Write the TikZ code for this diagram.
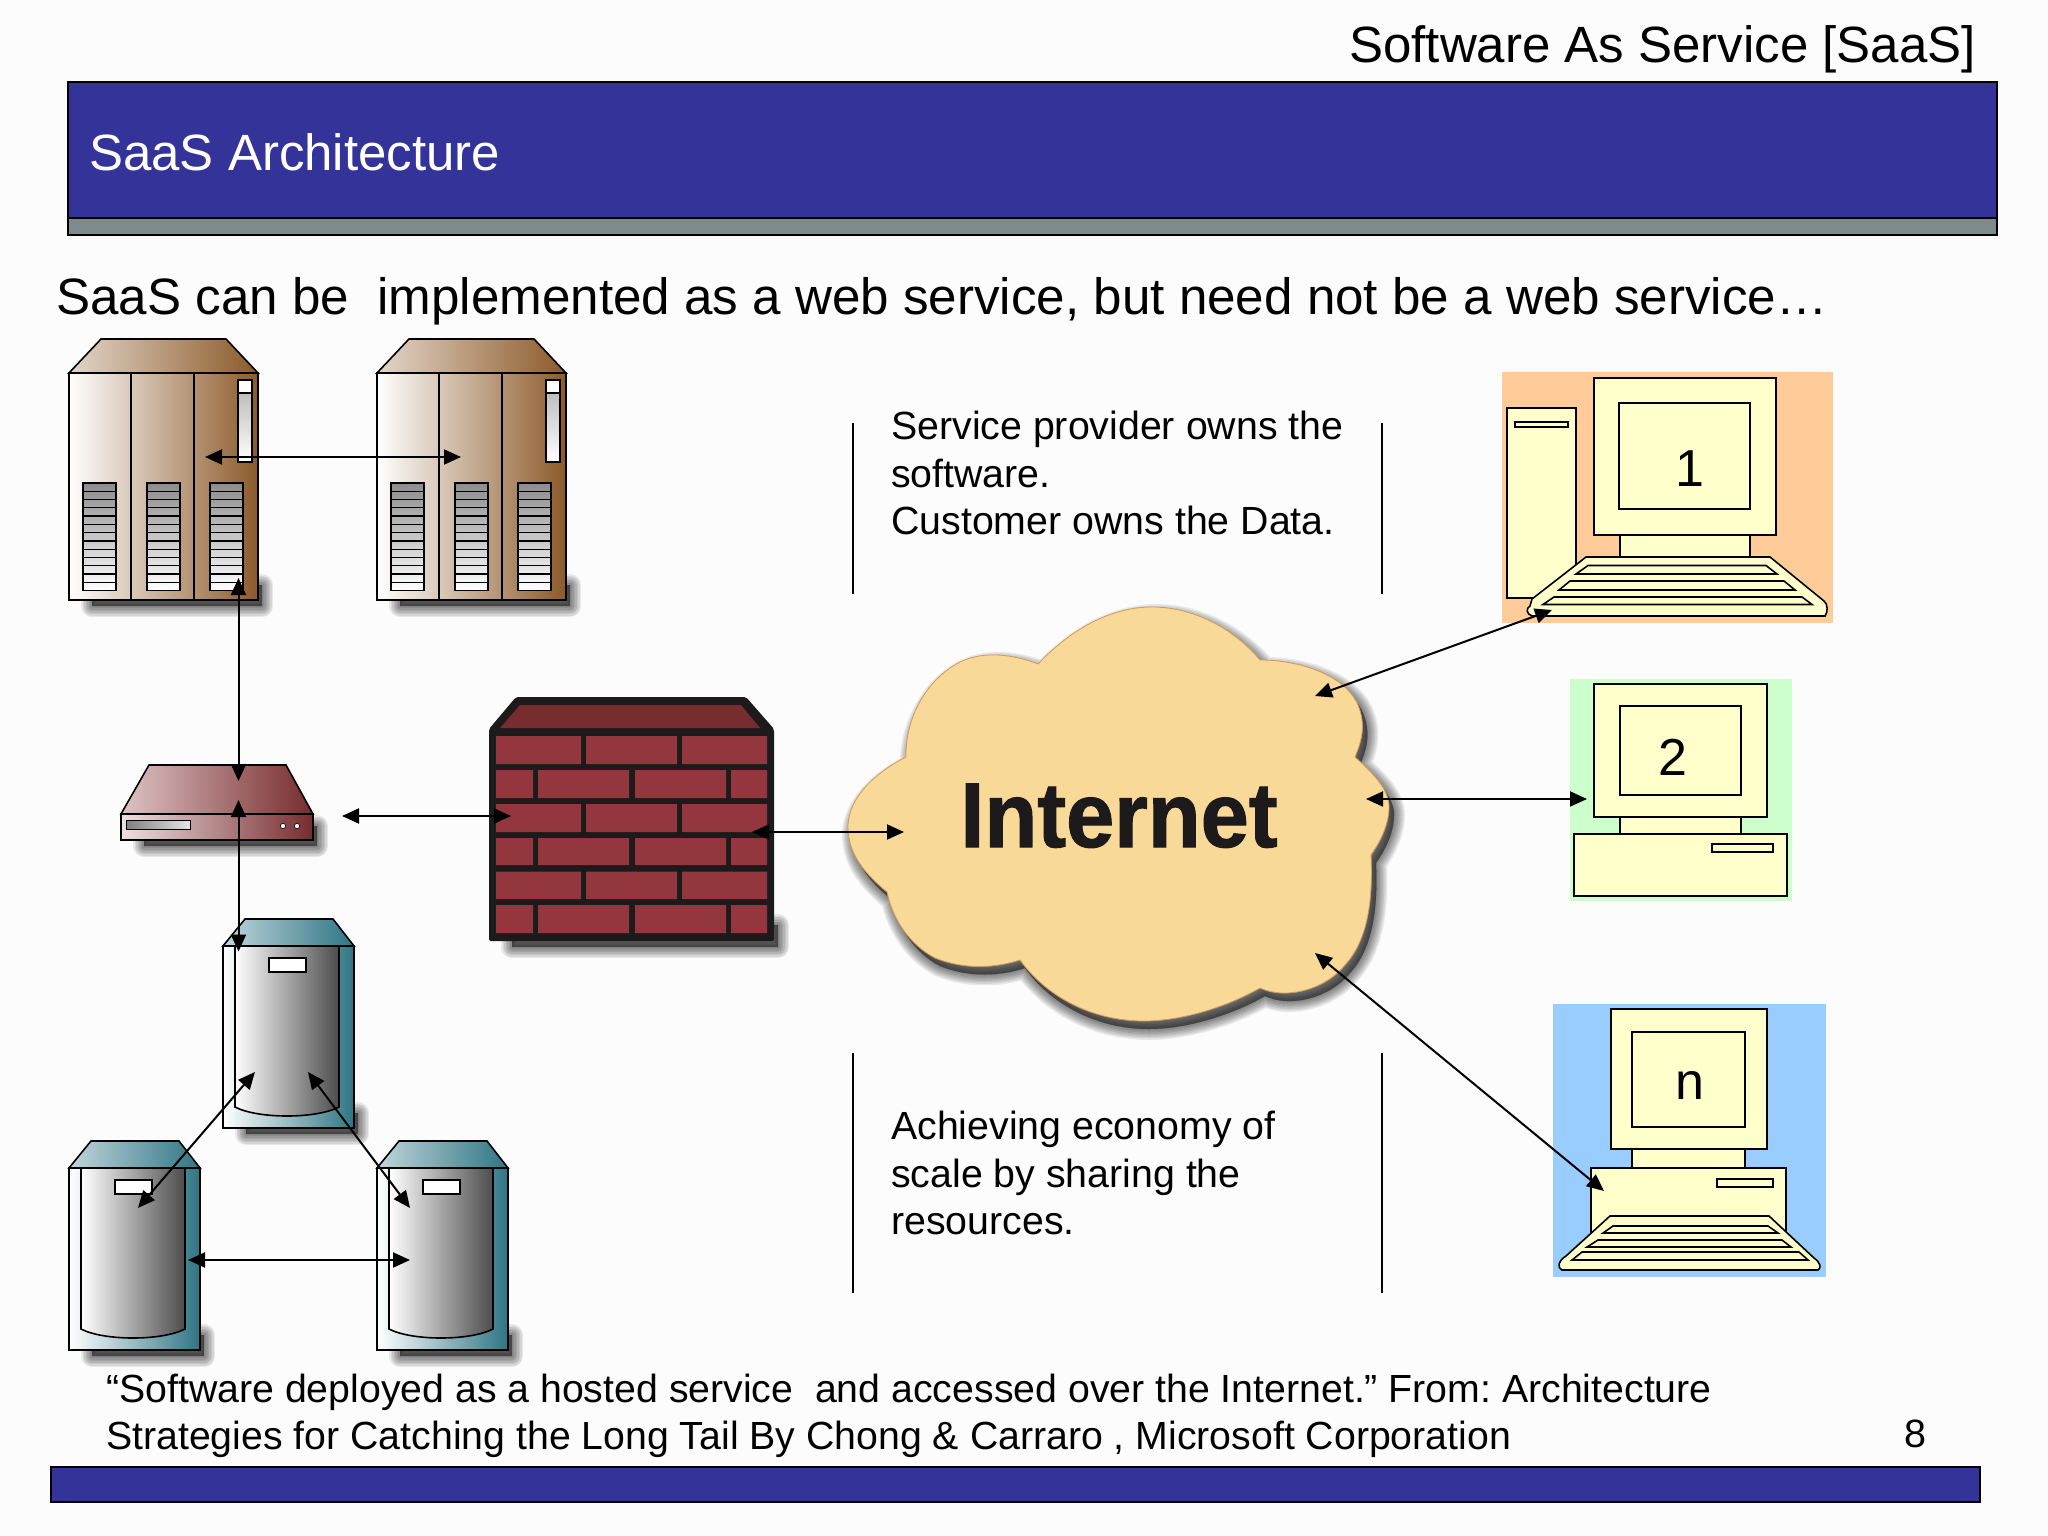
\documentclass[tikz,border=0pt]{standalone}
\usepackage{fontspec}
\setmainfont{Liberation Sans}
\newfontfamily\inetfont[FakeBold=1.2,FakeStretch=0.94]{Liberation Sans Bold}
\usetikzlibrary{arrows.meta}
\definecolor{barblue}{HTML}{333399}
\definecolor{bargrey}{HTML}{7F8A8A}
\definecolor{cloudfill}{HTML}{F9D998}
\definecolor{compfill}{HTML}{FFFFCC}
\definecolor{brick}{HTML}{93363D}
\definecolor{brickdark}{HTML}{1C1A1A}
\definecolor{walltop}{HTML}{772C2E}
\definecolor{brownD}{HTML}{8C5A2A}
\definecolor{tealD}{HTML}{2F7585}
\tikzset{
  x=1pt,y=-1pt,
  ink/.style={draw=black,line width=1.6pt,line join=miter},
  label/.style={inner sep=0pt,anchor=base west,text=black},
  body/.style={inner sep=0pt,anchor=north west,align=left,text=black,font=\fontsize{39.3}{47.6}\selectfont},
  digit/.style={inner sep=0pt,anchor=base,font=\fontsize{52}{52}\selectfont},
  link/.style={line width=2pt,{Triangle[length=17pt,width=15pt]}-{Triangle[length=17pt,width=15pt]}},
  rule/.style={draw=black,line width=1.8pt},
  slat/.style={draw=black,line width=1.6pt,top color=black!45,bottom color=white},
}
\newcommand{\softshadow}[1]{%
  \foreach \w in {22,19,16,13,10,7,4,1}{%
    \fill[black,opacity=.08,draw=black,line width=\w pt,line join=round] #1;}}
\newcommand{\ventbox}[1]{%
  \path[slat] (#1,483) rectangle ++(33,107.5);
  \foreach \i in {1,...,12}{\draw[black,line width=1.3pt] (#1,483+8.27*\i) -- ++(33,0);}}
\newcommand{\Cabinet}[1]{\begin{scope}[shift={(#1,0)}]
  \softshadow{(92,585) rectangle (262,606)}
  \path[ink,left color=white,right color=brownD] (69,373) rectangle (258,600);
  \path[ink,left color=brownD!25!white,right color=brownD] (69,373) -- (101,339) -- (226,339) -- (258,373) -- cycle;
  \draw[ink] (131,373) -- (131,600) (194,373) -- (194,600);
  \ventbox{83}\ventbox{147}\ventbox{210}
  \path[ink,top color=black!30,bottom color=white] (238,380) rectangle (252,462);
  \path[ink,fill=white] (238,380) rectangle (252,393);
\end{scope}}
\newcommand{\Server}[2]{\begin{scope}[shift={(#1,#2)}]
  \softshadow{(246,1113) rectangle (358,1134)}
  \path[ink,left color=white,right color=tealD] (223,946) rectangle (354,1128);
  \path[ink,left color=tealD!30!white,right color=tealD] (223,946) -- (245,919) -- (333,919) -- (354,946) -- cycle;
  \path[ink,left color=white,right color=black!70] (235,946) -- (235,1107) .. controls (258,1119) and (316,1119) .. (339,1107) -- (339,946) -- cycle;
  \path[ink,fill=white] (269,958) rectangle (306,972);
\end{scope}}
\begin{document}
\frenchspacing
\begin{tikzpicture}
\useasboundingbox (0,0) rectangle (2048,1536);
\fill[white!99!black] (0,0) rectangle (2048,1536);
% title and bars
\fill[bargrey,draw=black,line width=1.5pt] (68,218) rectangle (1997,235);
\fill[barblue,draw=black,line width=1.5pt] (68,82) rectangle (1997,218);
\fill[barblue,draw=black,line width=1.5pt] (51,1467) rectangle (1980,1502);
\node[label,anchor=base east,font=\fontsize{51}{51}\selectfont] (title) at (1976,63) {Software As Service [SaaS]};
\node[label,text=white,font=\fontsize{51}{51}\selectfont] (head) at (89,171) {SaaS Architecture};
\node[label,font=\fontsize{51.15}{51}\selectfont] (sub) at (56,314.5) {SaaS can be \ implemented as a web service, but need not be a web service…};
% icons
\Cabinet{0}\Cabinet{308}
% router
\softshadow{(144,826) rectangle (317,846)}
\path[ink,left color=white!85!brick,right color=walltop] (121,814) rectangle (313,840);
\path[ink,left color=white!70!brick,right color=walltop] (121,814) -- (149,765) -- (286,765) -- (313,814) -- cycle;
\path[draw=black,line width=1pt,left color=black!50,right color=black!10] (126,820) rectangle (190,829);
\fill[white,draw=black,line width=.6pt] (283,826) circle (2.6) (297,826) circle (2.6);
% servers
\Server{0}{0}\Server{-154}{222}\Server{154}{222}
% firewall
\softshadow{(512,925) rectangle (778,947)}
\fill[brickdark,rounded corners=2pt] (489,729) -- (516,697) -- (746,697) -- (774,729) -- (774,941) -- (489,941) -- cycle;
\fill[walltop] (500,728) -- (520,705) -- (741,705) -- (760,728) -- cycle;
\foreach \y/\h in {736/28,804/28,871.5/27.5}{
  \fill[brick] (496,\y) rectangle (581,\y+\h) (586,\y) rectangle (677,\y+\h) (682,\y) rectangle (767,\y+\h);}
\foreach \y/\h in {770/28,838/27,905/28}{
  \fill[brick] (496,\y) rectangle (533,\y+\h) (538,\y) rectangle (629,\y+\h) (635,\y) rectangle (726,\y+\h) (731,\y) rectangle (767,\y+\h);}
% cloud
\newcommand{\cloudpath}{(1038,664) .. controls (1075,625) and (1115,607) .. (1152,607) .. controls (1195,607) and (1235,630) .. (1260,660) .. controls (1300,660) and (1345,675) .. (1358,705) .. controls (1366,725) and (1362,740) .. (1355,757) .. controls (1375,775) and (1389,790) .. (1389,807) .. controls (1389,825) and (1380,842) .. (1371,855) .. controls (1373,900) and (1368,940) .. (1345,965) .. controls (1325,990) and (1285,1000) .. (1260,988) .. controls (1225,1008) and (1180,1021) .. (1144,1021) .. controls (1090,1021) and (1045,995) .. (1020,960) .. controls (995,968) and (965,970) .. (935,958) .. controls (910,945) and (893,920) .. (887,892) .. controls (860,870) and (848,850) .. (848,827) .. controls (848,795) and (880,770) .. (906,757) .. controls (905,720) and (925,680) .. (960,662) .. controls (985,650) and (1015,655) .. (1038,664) -- cycle}
\begin{scope}[shift={(5,8)}]\softshadow{\cloudpath}\end{scope}
\path[fill=cloudfill,draw=brown!70!cloudfill,line width=.8pt] \cloudpath;
\node[inner sep=0pt,anchor=base,font=\fontsize{92}{92}\selectfont\inetfont,text=brickdark] (internet) at (1119,847) {Internet};
% computer 1
\fill[fill={rgb,255:red,255;green,204;blue,153}] (1502,372) rectangle (1833,623);
\path[ink,fill=compfill] (1507,408) rectangle (1576,598);
\path[ink,fill=compfill] (1515,422) rectangle (1568,427);
\path[ink,fill=compfill] (1620,535) rectangle (1750,557);
\path[ink,fill=compfill] (1594,378) rectangle (1776,535);
\path[ink,fill=compfill] (1619,403) rectangle (1750,509);
\path[ink,fill=compfill] (1586,557) -- (1770,557) -- (1824,601) .. controls (1828,604) and (1828,612) .. (1825,616) -- (1532,616) .. controls (1526,614) and (1526,608) .. (1530,606) -- (1532,599) -- cycle;
\path[ink,fill=compfill] (1588,565.5) -- (1766,565.5) -- (1777,574) -- (1576,574) -- cycle;
\path[ink,fill=compfill] (1570,581) -- (1784,581) -- (1795,590) -- (1559,590) -- cycle;
\path[ink,fill=compfill] (1554,597) -- (1802,597) -- (1812,604.5) -- (1543,604.5) -- cycle;
\node[digit] (c1) at (1690,486) {1};
% computer 2
\fill[fill={rgb,255:red,204;green,255;blue,204}] (1570,679) rectangle (1792,901);
\path[ink,fill=compfill] (1620,817) rectangle (1741,834);
\path[ink,fill=compfill] (1574,834) rectangle (1787,896);
\path[ink,fill=compfill] (1712,844) rectangle (1773,852);
\path[ink,fill=compfill] (1594,684) rectangle (1767,817);
\path[ink,fill=compfill] (1620,706) rectangle (1741,795);
\node[digit] (c2) at (1673,775) {2};
% computer n
\fill[fill={rgb,255:red,153;green,204;blue,255}] (1553,1004) rectangle (1826,1277);
\path[ink,fill=compfill] (1632,1149) rectangle (1745,1168);
\path[ink,fill=compfill] (1591,1168) rectangle (1786,1240);
\path[ink,fill=compfill] (1717,1179) rectangle (1773,1187);
\path[ink,fill=compfill] (1611,1009) rectangle (1767,1149);
\path[ink,fill=compfill] (1632,1032) rectangle (1745,1127);
\path[ink,fill=compfill] (1610,1216) -- (1769,1216) -- (1814,1258) .. controls (1820,1262) and (1822,1268) .. (1818,1270) -- (1562,1270) .. controls (1557,1268) and (1558,1261) .. (1566,1256) -- cycle;
\path[ink,fill=compfill] (1613,1226) -- (1768,1226) -- (1778,1233) -- (1603,1233) -- cycle;
\path[ink,fill=compfill] (1598,1240) -- (1782,1240) -- (1791,1247) -- (1587,1247) -- cycle;
\path[ink,fill=compfill] (1582,1252) -- (1799,1252) -- (1808,1260) -- (1572,1260) -- cycle;
\node[digit] (cn) at (1690,1099) {n};
% text
\node[body] (owns) at (891,411) {Service provider owns the\\software.\\Customer owns the Data.};
\node[body] (scale) at (891,1111) {Achieving economy of\\scale by sharing the\\resources.};
\draw[rule] (853,423) coordinate (r1a) -- (853,594) coordinate (r1b);
\draw[rule] (1382,423) coordinate (r2a) -- (1382,594) coordinate (r2b);
\draw[rule] (853,1053) coordinate (r3a) -- (853,1293) coordinate (r3b);
\draw[rule] (1382,1053) coordinate (r4a) -- (1382,1293) coordinate (r4b);
\node[body,font=\fontsize{39.25}{47.4}\selectfont] (quote) at (106,1373.5) {“Software deployed as a hosted service \ and accessed over the Internet.” From: Architecture\\Strategies for Catching the Long Tail By Chong \& Carraro , Microsoft Corporation};
\node[label,font=\fontsize{39.5}{39.5}\selectfont] (page) at (1904,1447) {8};
% connector ends
\coordinate (cabL) at (205,457);
\coordinate (cabR) at (461,457);
\coordinate (cabB) at (238.5,578);
\coordinate (rtT) at (238.5,781);
\coordinate (rtB) at (238.5,800);
\coordinate (srvT) at (238.5,951.5);
\coordinate (rtR) at (342,816);
\coordinate (fwL) at (511,816);
\coordinate (fwR) at (752,832);
\coordinate (clL) at (904,832);
\coordinate (srvA) at (255,1072);
\coordinate (srvB) at (308,1072);
\coordinate (srvC) at (138,1208);
\coordinate (srvD) at (410,1208);
\coordinate (srvE) at (188,1260);
\coordinate (srvF) at (410,1260);
\coordinate (clTR) at (1315,696);
\coordinate (pc1) at (1552,610);
\coordinate (clR) at (1366,799);
\coordinate (pc2) at (1587,799);
\coordinate (clBR) at (1315,953);
\coordinate (pcn) at (1604,1191);
\draw[link] (cabL) -- (cabR);
\draw[link] (cabB) -- (rtT);
\draw[link] (rtB) -- (srvT);
\draw[link] (rtR) -- (fwL);
\draw[link] (fwR) -- (clL);
\draw[link] (srvA) -- (srvC);
\draw[link] (srvB) -- (srvD);
\draw[link] (srvE) -- (srvF);
\draw[link] (clTR) -- (pc1);
\draw[link] (clR) -- (pc2);
\draw[link] (clBR) -- (pcn);
\end{tikzpicture}
\end{document}
